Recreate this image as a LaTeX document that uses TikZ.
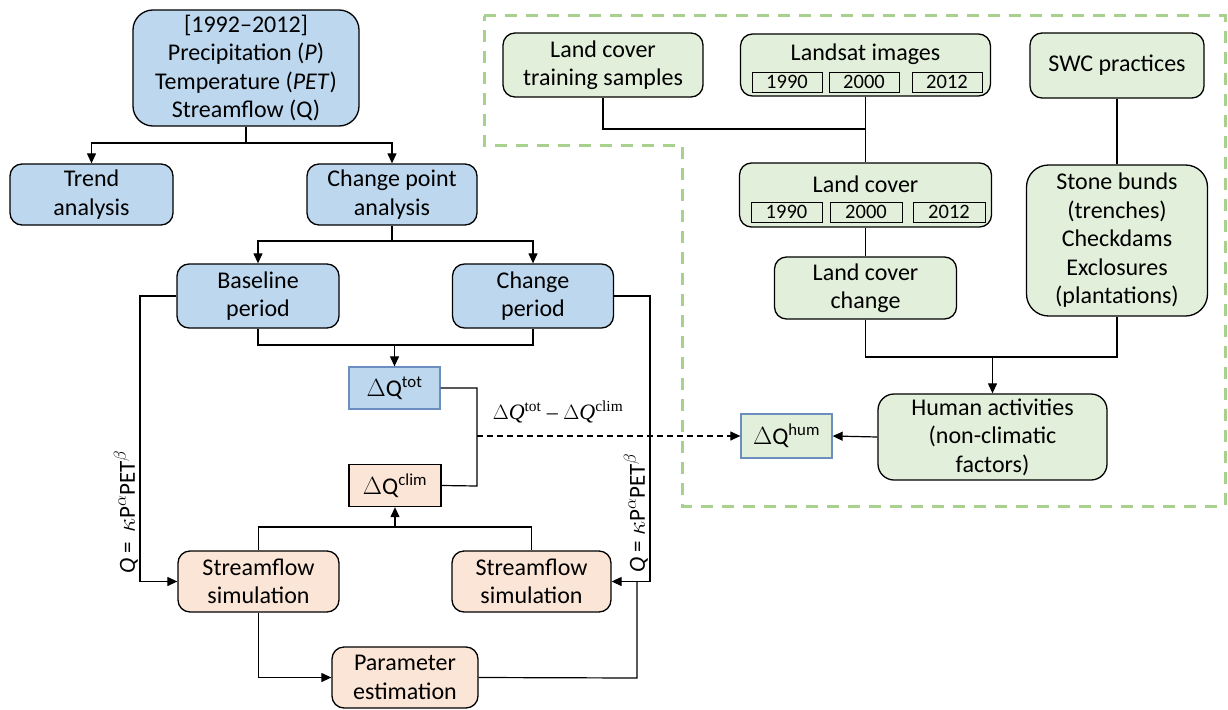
\documentclass[tikz,border=0pt]{standalone}
\usepackage{fontspec}
\setmainfont{Carlito}
\newfontfamily\serifnum{Liberation Serif}
\usetikzlibrary{arrows.meta}
\definecolor{bfill}{HTML}{BDD7EE}
\definecolor{pfill}{HTML}{FBE5D6}
\definecolor{gfill}{HTML}{E2EFDA}
\definecolor{bborder}{HTML}{6C8EBF}
\definecolor{gdash}{HTML}{A9D18E}
\tikzset{
  base/.style={draw=black, line width=1.3pt, align=center, inner sep=0pt,
    font=\fontsize{24}{28.5}\selectfont},
  bluebox/.style={base, fill=bfill, rounded corners=12pt},
  peachbox/.style={base, fill=pfill, rounded corners=12pt},
  greenbox/.style={base, fill=gfill, rounded corners=12pt},
  yearbox/.style={draw=black, line width=1pt, inner sep=0pt, minimum height=20pt,
    font=\fontsize{20.5}{21}\selectfont},
  conn/.style={line width=1.2pt},
  arr/.style={conn, -{Triangle[length=10pt,width=9pt]}},
  lbl/.style={font=\fontsize{24}{28}\selectfont, inner sep=0pt},
}
\begin{document}
\begin{tikzpicture}[x=1pt,y=-1pt]
\useasboundingbox (0,0) rectangle (1228,709);
% dashed region
\draw[gdash, line width=3pt, dash pattern=on 12pt off 9pt]
  (484,16) -- (1225,16) -- (1225,506) -- (682,506) -- (682,145) -- (484,145) -- cycle;

% left part nodes
\node[bluebox, rounded corners=20pt, minimum width=226pt, minimum height=116pt] (top) at (246,68)
  {[1992–2012]\\Precipitation (\textit{P})\\Temperature (\textit{PET})\\Streamflow (Q)};
\node[bluebox, minimum width=163pt, minimum height=61pt] (trend) at (91.5,194.5) {Trend\\analysis};
\node[bluebox, minimum width=170pt, minimum height=61pt] (cpa) at (392,194.5) {Change point\\analysis};
\node[bluebox, minimum width=162pt, minimum height=64pt] (bp) at (258,296) {Baseline\\period};
\node[bluebox, minimum width=161pt, minimum height=64pt] (cp) at (533,296) {Change\\period};
\node[base, fill=bfill, draw=bborder, minimum width=91pt, minimum height=42pt] (dtot) at (394.5,388)
  {$\Delta$Q\textsuperscript{tot}};
\node[base, fill=pfill, minimum width=92pt, minimum height=42pt] (dclim) at (395,485.5)
  {$\Delta$Q\textsuperscript{clim}};
\node[peachbox, minimum width=161pt, minimum height=61pt] (sim1) at (258.5,581.5) {Streamflow\\simulation};
\node[peachbox, minimum width=159pt, minimum height=61pt] (sim2) at (531.5,581.5) {Streamflow\\simulation};
\node[peachbox, minimum width=146pt, minimum height=61pt] (param) at (405,677.5) {Parameter\\estimation};

% right part nodes
\node[greenbox, minimum width=200pt, minimum height=64pt] (train) at (603,65) {Land cover\\training samples};
\node[greenbox, minimum width=250pt, minimum height=62pt] (landsat) at (865.5,65) {};
\node[lbl] (landsatt) at (865.5,54) {Landsat images};
\node[yearbox, minimum width=70pt] (ls1) at (787,82) {1990};
\node[yearbox, minimum width=70pt] (ls2) at (864,82) {2000};
\node[yearbox, minimum width=70pt] (ls3) at (947,82) {2012};
\node[greenbox, minimum width=174pt, minimum height=65pt] (swc) at (1117,65.5) {SWC practices};
\node[greenbox, minimum width=252pt, minimum height=64pt] (lc) at (865.5,195) {};
\node[lbl] (lct) at (865.5,184) {Land cover};
\node[yearbox, minimum width=71pt] (lc1) at (786.5,212) {1990};
\node[yearbox, minimum width=72pt] (lc2) at (866,212) {2000};
\node[yearbox, minimum width=72pt] (lc3) at (949,212) {2012};
\node[greenbox, minimum width=182pt, minimum height=62pt] (lcc) at (865.5,288) {Land cover\\change};
\node[greenbox, rounded corners=22pt, minimum width=181pt, minimum height=151pt] (stone) at (1117,240.5)
  {Stone bunds\\(trenches)\\Checkdams\\Exclosures\\(plantations)};
\node[greenbox, rounded corners=16pt, minimum width=229pt, minimum height=86pt] (human) at (992.5,437)
  {Human activities\\(non-climatic\\factors)};
\node[base, fill=gfill, draw=bborder, minimum width=91pt, minimum height=44pt] (dhum) at (786.5,436)
  {$\Delta$Q\textsuperscript{hum}};

% labels
\node[lbl, font=\serifnum\fontsize{22}{24}\selectfont] (difflbl) at (558,412)
  {$\Delta$\textit{Q}\textsuperscript{tot} – $\Delta$\textit{Q}\textsuperscript{clim}};
\node[lbl, rotate=90, font=\fontsize{23}{26}\selectfont] (qleft) at (126,512)
  {\textit{Q} = \,$\kappa$P$^{\alpha}$PET$^{\beta}$};
\node[lbl, rotate=90, font=\fontsize{23}{26}\selectfont] (qright) at (636,513)
  {\textit{Q} = $\kappa$P$^{\alpha}$PET$^{\beta}$};

% coordinates
\coordinate (s1) at (246,143);
\coordinate (s2) at (392,241);
\coordinate (j1) at (258,345);
\coordinate (j1m) at (394.5,345);
\coordinate (k1) at (477,388);
\coordinate (k2) at (477,486);
\coordinate (km) at (477,436);
\coordinate (j2) at (258.5,527);
\coordinate (j2m) at (395,527);
\coordinate (lx) at (140,296);
\coordinate (rx) at (650,296);
\coordinate (pr) at (637,678);
\coordinate (pe) at (637,582);
\coordinate (tj2) at (865.5,129);
\coordinate (hj) at (865.5,357);
\coordinate (hj2) at (1117,357);
\coordinate (hjm) at (992.5,357);

% connectors left
\draw[conn] (top.south) -- (s1);
\draw[arr] (s1) -| (trend.north);
\draw[arr] (s1) -| (cpa.north);
\draw[conn] (cpa.south) -- (s2);
\draw[arr] (s2) -| (bp.north);
\draw[arr] (s2) -| (cp.north);
\draw[conn] (bp.south) |- (j1) -| (cp.south);
\draw[arr] (j1m) -- (dtot.north);
\draw[conn] (dtot.east) -- (k1) -- (k2) -- (dclim.east);
\draw[conn, dashed, dash pattern=on 6pt off 4pt, -{Triangle[length=10pt,width=9pt]}] (km) -- (dhum.west);
\draw[conn] (sim1.north) |- (j2) -| (sim2.north);
\draw[arr] (j2m) -- (dclim.south);
\draw[arr] (bp.west) -- (lx) |- (sim1.west);
\draw[arr] (cp.east) -- (rx) |- (sim2.east);
\draw[arr] (sim1.south) |- (param.west);
\draw[conn] (param.east) -- (pr) -- (pe);

% connectors right
\draw[conn] (train.south) |- (tj2);
\draw[conn] (landsat.south) -- (lc.north);
\draw[conn] (lc.south) -- (lcc.north);
\draw[conn] (swc.south) -- (stone.north);
\draw[conn] (lcc.south) |- (hj) -- (hj2) -- (stone.south);
\draw[arr] (hjm) -- (human.north);
\draw[arr] (human.west) -- (dhum.east);
\end{tikzpicture}
\end{document}
